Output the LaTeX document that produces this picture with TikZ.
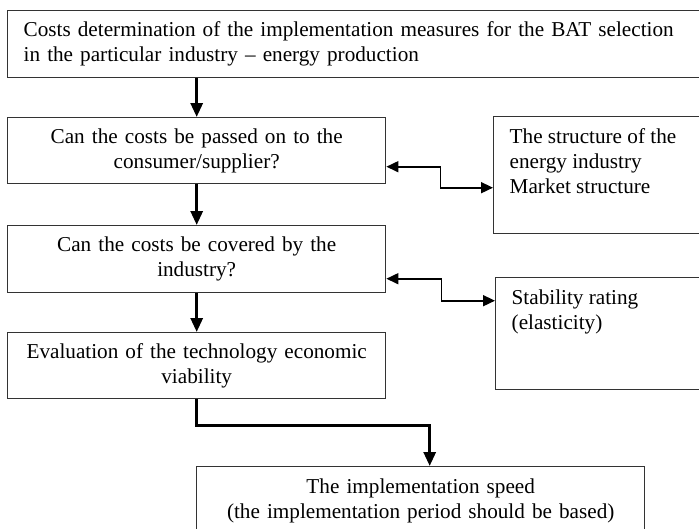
\documentclass[tikz,border=0pt]{standalone}
\usepackage{fontspec}
\setmainfont{Liberation Serif}
\usepackage{tikz}
\usetikzlibrary{shapes,arrows,arrows.meta,positioning,fit,calc}

\begin{document}
\begin{tikzpicture}[
                    x=1pt, y=-1pt,
                    every node/.style={font=\fontsize{21.2}{25}\selectfont},
                    stepbox/.style={draw=black!80, line width=1.4pt, anchor=north west, inner xsep=16pt, inner ysep=4pt},
                    sidebox/.style={stepbox, inner ysep=12pt},
                    flow/.style={line width=3pt, -{Triangle[length=14pt,width=12pt]}},
                    biflow/.style={line width=1.7pt, {Triangle[length=12pt,width=11pt]}-{Triangle[length=12pt,width=11pt]}}
                ]
                    \useasboundingbox (0,0) rectangle (699,528);

                    % main chain
                    \node[stepbox, text width=681pt, align=left, minimum height=67pt] (cost) at (7,10) {Costs determination of the implementation measures for the BAT selection\\in the particular industry -- energy production};
                    \node[stepbox, text width=346pt, align=center, minimum height=66pt] (pass) at (7,117) {Can the costs be passed on to the\\consumer/supplier?};
                    \node[stepbox, text width=346pt, align=center, minimum height=67pt] (cover) at (7,225) {Can the costs be covered by the\\industry?};
                    \node[stepbox, text width=346pt, align=center, minimum height=66pt] (eval) at (7,332) {Evaluation of the technology economic\\viability};
                    \node[stepbox, text width=416pt, align=center, inner ysep=12pt] (speed) at (196,466) {The implementation speed\\(the implementation period should be based)};

                    % side boxes
                    \node[sidebox] (market) at (493,116) {\parbox[c][93pt][t]{195pt}{The structure of the\\energy industry\\Market structure}};
                    \node[sidebox] (stab) at (495,277) {\parbox[c][88pt][t]{195pt}{Stability rating\\(elasticity)}};

                    \draw[flow] (pass.north |- cost.south) -- (pass.north);
                    \draw[flow] (pass.south) -- (cover.north);
                    \draw[flow] (cover.south) -- (eval.north);
                    \draw[flow] (eval.south) -- ++(0,26) -| ([xshift=9pt]speed.north);

                    \draw[biflow] ([yshift=-16pt]pass.east) -- ++(54,0) |- ([yshift=-12.5pt]market.west);
                    \draw[biflow] ([yshift=-19.5pt]cover.east) -- ++(55,0) |- ([yshift=33pt]stab.west);
                \end{tikzpicture}
\end{document}
